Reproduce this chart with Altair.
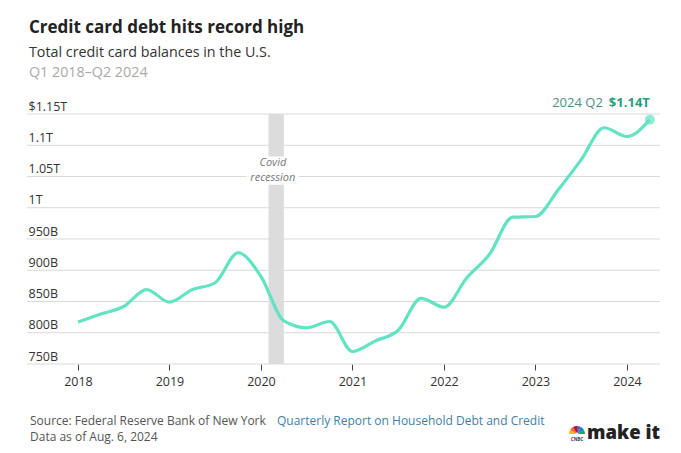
import altair as alt
import pandas as pd

# ---- data ----
quarters = [
    "2018 Q1", "2018 Q2", "2018 Q3", "2018 Q4",
    "2019 Q1", "2019 Q2", "2019 Q3", "2019 Q4",
    "2020 Q1", "2020 Q2", "2020 Q3", "2020 Q4",
    "2021 Q1", "2021 Q2", "2021 Q3", "2021 Q4",
    "2022 Q1", "2022 Q2", "2022 Q3", "2022 Q4",
    "2023 Q1", "2023 Q2", "2023 Q3", "2023 Q4",
    "2024 Q1", "2024 Q2",
]
balances_b = [
    817, 830, 842, 869,
    849, 869, 880, 928,
    890, 819, 808, 818,
    770, 787, 804, 855,
    841, 888, 926, 985,
    986, 1029, 1077, 1128,
    1114, 1141,
]
year_ticks = [2018, 2019, 2020, 2021, 2022, 2023, 2024]
y_ticks = [750, 800, 850, 900, 950, 1000, 1050, 1100, 1150]
y_tick_labels = ["750B", "800B", "850B", "900B", "950B", "1T", "1.05T", "1.1T", "$1.15T"]
recession_start, recession_end = 2020.083, 2020.25
logo_colors = ["#fcb711", "#f37021", "#cc004c", "#6460aa", "#0089d0", "#0db14b"]

FONT = "Open Sans"
LINE = "#62e3c2"
W, H = 633, 250

t = [int(q[:4]) + (int(q[-1]) - 1) / 4 for q in quarters]
df = pd.DataFrame({"quarter": quarters, "t": t, "v": balances_b})
last = df.tail(1)

xscale = alt.Scale(domain=[2017.443, 2024.361], nice=False, zero=False)
yscale = alt.Scale(domain=[750, 1150], nice=False, zero=False)

label_expr = "{" + ",".join(f"'{v}':'{l}'" for v, l in zip(y_ticks, y_tick_labels)) + "}[datum.value]"

XAX = alt.Axis(
    values=year_ticks, format="d", grid=False, domain=False, ticks=True,
    tickColor="#444", tickSize=6, tickWidth=1, labelPadding=5,
    labelFont=FONT, labelFontSize=12.5, labelColor="#333", title=None)
YAX = alt.Axis(
    values=y_ticks, labelExpr=label_expr, grid=False, labelOverlap=False,
    domain=False, ticks=False, tickSize=0, labelPadding=-1, labelAlign="left",
    labelBaseline="alphabetic", labelOffset=-4,
    labelFont=FONT, labelFontSize=12.5, labelColor="#333", title=None)

def X(f):
    return alt.X(f, scale=xscale, axis=XAX)

def Y(f):
    return alt.Y(f, scale=yscale, axis=YAX)

grid = alt.Chart(pd.DataFrame({"g": y_ticks})).mark_rule(color="#d9d9d9", strokeWidth=1).encode(
    y=Y("g:Q"),
)

band = alt.Chart(pd.DataFrame({"s": [recession_start], "e": [recession_end], "y0": [750], "y1": [1150]})).mark_rect(
    color="#dcdcdc"
).encode(x=X("s:Q"), x2="e:Q", y=Y("y0:Q"), y2="y1:Q")

covid_box = alt.Chart(pd.DataFrame({"s": [2019.84], "e": [2020.41], "y0": [1037], "y1": [1082]})).mark_rect(
    color="white"
).encode(x=X("s:Q"), x2="e:Q", y=Y("y0:Q"), y2="y1:Q")

covid_df = pd.DataFrame({"t": [2020.13, 2020.13], "v": [1072, 1047.5], "txt": ["Covid", "recession"]})
covid_text = alt.Chart(covid_df).mark_text(
    font=FONT, fontSize=11, fontStyle="italic", color="#777",
    align="center", baseline="middle"
).encode(x=X("t:Q"), y=Y("v:Q"), text="txt:N")

line = alt.Chart(df).mark_line(color=LINE, strokeWidth=3.2, interpolate="monotone").encode(
    x=X("t:Q"), y=Y("v:Q")
)
endpt = alt.Chart(last).mark_circle(color=LINE, size=100, opacity=0.7).encode(
    x=X("t:Q"), y=Y("v:Q")
)
ann_val = alt.Chart(last).mark_text(
    font=FONT, fontSize=13, fontWeight="bold", color="#2a9d80", align="right", baseline="alphabetic", dy=-13
).encode(x=X("t:Q"), y=Y("v:Q"), text=alt.value("$1.14T"))
ann_lbl = alt.Chart(last).mark_text(
    font=FONT, fontSize=13, color="#4f8f82", align="right", baseline="alphabetic", dy=-13, dx=-47
).encode(x=X("t:Q"), y=Y("v:Q"), text=alt.value("2024 Q2"))

def txt(s, x, y, size, color, weight="normal", font=FONT, align="left"):
    return alt.Chart(pd.DataFrame({"a": [0]})).mark_text(
        text=s, font=font, fontSize=size, color=color, fontWeight=weight, align=align, baseline="alphabetic"
    ).encode(x=alt.value(x), y=alt.value(y))

title = txt("Credit card debt hits record high", 2, -81, 17, "#222", "bold")
sub1 = txt("Total credit card balances in the U.S.", 2, -57, 14.3, "#333")
sub2 = txt("Q1 2018\u2013Q2 2024", 2, -37, 14.3, "#aaa")
src1 = txt("Source: Federal Reserve Bank of New York", 3, 311, 12, "#555")
src2 = txt("Quarterly Report on Household Debt and Credit", 250, 311, 12, "#3f7fa6")
src3 = txt("Data as of Aug. 6, 2024", 3, 327, 12, "#555")
logo = txt("make it", 633, 325, 18.5, "#222", 800, align="right")
logo_cnbc = txt("CNBC", 550, 327, 4.5, "#1a3a6e", "bold", align="center")

peacock = alt.Chart(pd.DataFrame({"c": logo_colors, "w": [1] * 6, "o": list(range(6))})).mark_arc(
    radius=8, radius2=1.5
).encode(
    theta=alt.Theta("w:Q", stack=True, scale=alt.Scale(range=[-1.5708, 1.5708])),
    order=alt.Order("o:Q"),
    color=alt.Color("c:N", scale=None, legend=None),
    x=alt.value(550), y=alt.value(320),
)

chart = alt.layer(
    grid, band, covid_box, covid_text, line, endpt, ann_lbl, ann_val,
    title, sub1, sub2, src1, src2, src3, logo, peacock, logo_cnbc
).properties(
    width=W, height=H,
    autosize=alt.AutoSizeParams(type="none"),
    padding={"left": 19, "top": 106, "right": 10, "bottom": 86},
).configure_view(strokeWidth=0)

chart.save("out.html", embed_options={"renderer": "svg", "actions": False})
